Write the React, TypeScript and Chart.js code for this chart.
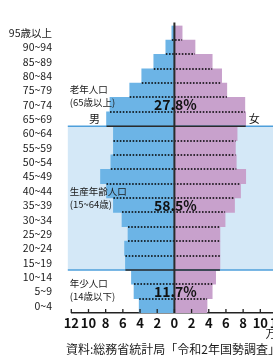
import React, { useEffect, useRef } from "react";
import { Chart, registerables } from "chart.js";

Chart.register(...registerables);

const ageLabels = ["95歳以上", "90~94", "85~89", "80~84", "75~79", "70~74", "65~69", "60~64", "55~59", "50~54", "45~49", "40~44", "35~39", "30~34", "25~29", "20~24", "15~19", "10~14", "5~9", "0~4"];
const maleValues = [0.3, 1.0, 2.4, 3.8, 5.2, 7.5, 7.9, 7.1, 7.1, 7.4, 8.6, 7.9, 7.1, 6.1, 5.4, 5.8, 5.7, 5.0, 4.7, 4.1];
const femaleValues = [0.9, 2.4, 4.4, 5.5, 6.1, 8.2, 8.3, 7.3, 7.1, 7.2, 8.3, 7.7, 7.0, 5.9, 5.3, 5.3, 5.3, 4.8, 4.4, 3.8];
const xTickValues = [-12, -10, -8, -6, -4, -2, 0, 2, 4, 6, 8, 10, 12];

const groupNames = ["老年人口", "生産年齢人口", "年少人口"];
const groupRanges = ["(65歳以上)", "(15~64歳)", "(14歳以下)"];
const groupShares = ["27.8%", "58.5%", "11.7%"];
const groupShareRows = ["70~74", "35~39", "5~9"];
const groupNameRows = ["75~79", "40~44", "10~14"];
const groupNameDy = [-1, 1, 6.5];
const bandTopRow = "65~69";
const bandBottomRow = "15~19";

const sourceText = "資料:総務省統計局「令和2年国勢調査」";
const unitText = "万人";

const FONT = "'Noto Sans CJK JP', 'Noto Sans', sans-serif";
const MALE = "#6cb4e6";
const FEMALE = "#c8a1cc";
const BAND = "#d4e8f7";
const BAND_LINE = "#4e9fdb";
const DARK = "#2b2b2b";

export default function App() {
  const ref = useRef<HTMLCanvasElement | null>(null);

  useEffect(() => {
    if (!ref.current) return;

    const decor = {
      id: "decor",
      beforeDatasetsDraw(chart: any) {
        const { ctx, chartArea, scales } = chart;
        const y = scales.y;
        const ti = ageLabels.indexOf(bandTopRow);
        const bi = ageLabels.indexOf(bandBottomRow);
        const top = (y.getPixelForValue(ti) + y.getPixelForValue(ti + 1)) / 2;
        const bot = (y.getPixelForValue(bi) + y.getPixelForValue(bi + 1)) / 2;
        ctx.save();
        ctx.fillStyle = BAND;
        ctx.fillRect(chartArea.left - 3.5, top, chart.width, bot - top);
        ctx.restore();
      },
      afterDatasetsDraw(chart: any) {
        const { ctx, chartArea, scales } = chart;
        const x = scales.x;
        const y = scales.y;
        const ti = ageLabels.indexOf(bandTopRow);
        const bi = ageLabels.indexOf(bandBottomRow);
        const bound = (i: number) => (y.getPixelForValue(i) + y.getPixelForValue(i + 1)) / 2;
        ctx.save();
        // dotted separators
        ctx.strokeStyle = "#000";
        ctx.lineWidth = 1.6;
        ctx.setLineDash([1.6, 1.6]);
        for (let i = 0; i < ageLabels.length - 1; i++) {
          if (i === ti || i === bi) continue;
          const by = Math.round(bound(i));
          const x1 = x.getPixelForValue(-Math.min(maleValues[i], maleValues[i + 1]));
          const x2 = x.getPixelForValue(Math.min(femaleValues[i], femaleValues[i + 1]));
          ctx.beginPath();
          ctx.moveTo(x1, by);
          ctx.lineTo(x2, by);
          ctx.stroke();
        }
        ctx.setLineDash([]);
        // band borders
        for (const i of [ti, bi]) {
          const by = bound(i);
          ctx.strokeStyle = BAND_LINE;
          ctx.lineWidth = 1.5;
          ctx.beginPath();
          ctx.moveTo(chartArea.left - 3.5, by);
          ctx.lineTo(chart.width, by);
          ctx.stroke();
          const x1 = x.getPixelForValue(-Math.max(maleValues[i], maleValues[i + 1]));
          const x2 = x.getPixelForValue(Math.max(femaleValues[i], femaleValues[i + 1]));
          ctx.strokeStyle = DARK;
          ctx.beginPath();
          ctx.moveTo(x1, by);
          ctx.lineTo(x2, by);
          ctx.stroke();
        }
        // center line
        const x0 = x.getPixelForValue(0);
        ctx.strokeStyle = DARK;
        ctx.lineWidth = 2;
        ctx.beginPath();
        ctx.moveTo(x0, chartArea.top - 3);
        ctx.lineTo(x0, chartArea.bottom);
        ctx.stroke();
        // x tick marks (inward)
        ctx.strokeStyle = "#222";
        ctx.lineWidth = 1.3;
        for (const v of xTickValues) {
          const px = x.getPixelForValue(v);
          ctx.beginPath();
          ctx.moveTo(px, chartArea.bottom);
          ctx.lineTo(px, chartArea.bottom - 4);
          ctx.stroke();
        }
        // shares
        ctx.fillStyle = "#111";
        ctx.textAlign = "center";
        ctx.textBaseline = "middle";
        ctx.font = `bold 14px ${FONT}`;
        groupShares.forEach((s, k) => {
          const r = ageLabels.indexOf(groupShareRows[k]);
          ctx.fillText(s, x0 + 1, y.getPixelForValue(r));
        });
        // group annotations
        ctx.textAlign = "left";
        ctx.font = `9.5px ${FONT}`;
        ctx.fillStyle = "#1a1a1a";
        groupNames.forEach((g, k) => {
          const r = ageLabels.indexOf(groupNameRows[k]);
          const yy = y.getPixelForValue(r) + groupNameDy[k];
          ctx.fillText(g, chartArea.left - 1.5, yy);
          ctx.fillText(groupRanges[k], chartArea.left - 1.5, yy + 13);
        });
        // sex labels
        const r65 = ageLabels.indexOf("65~69");
        ctx.font = `11px ${FONT}`;
        ctx.textAlign = "center";
        ctx.fillText("男", x.getPixelForValue(-9.3), y.getPixelForValue(r65));
        ctx.fillText("女", x.getPixelForValue(9.3), y.getPixelForValue(r65));
        ctx.restore();
      },
      afterDraw(chart: any) {
        const { ctx, chartArea } = chart;
        ctx.save();
        ctx.fillStyle = "#1a1a1a";
        ctx.textBaseline = "middle";
        ctx.textAlign = "left";
        ctx.font = `11px ${FONT}`;
        ctx.fillText(unitText, 265.5, chartArea.bottom + 20.5);
        ctx.font = `12px ${FONT}`;
        ctx.fillText(sourceText, 66, chartArea.bottom + 36);
        ctx.restore();
      },
    };

    const chart = new Chart(ref.current, {
      type: "bar",
      data: {
        labels: ageLabels,
        datasets: [
          { label: "男", data: maleValues.map((v) => -v), backgroundColor: MALE, borderWidth: 0 },
          { label: "女", data: femaleValues, backgroundColor: FEMALE, borderWidth: 0 },
        ],
      },
      options: {
        indexAxis: "y",
        responsive: false,
        animation: false,
        maintainAspectRatio: false,
        layout: { padding: { top: 6, left: 0, right: 22.5, bottom: 17 } },
        datasets: { bar: { barPercentage: 1, categoryPercentage: 1 } },
        plugins: { legend: { display: false }, tooltip: { enabled: false } },
        scales: {
          x: {
            type: "linear",
            min: -12,
            max: 12,
            stacked: true,
            grid: { display: false, drawTicks: false },
            border: { display: true, color: "#222", width: 1.5 },
            afterFit: (s: any) => {
              s.height = 30;
            },
            afterBuildTicks: (s: any) => {
              s.ticks = xTickValues.map((v) => ({ value: v }));
            },
            ticks: {
              autoSkip: false,
              maxRotation: 0,
              padding: 2,
              color: "#111",
              font: { family: FONT, size: 13, weight: "bold" },
              callback: (v: any) => String(Math.abs(Number(v))),
            },
          },
          y: {
            type: "category",
            stacked: true,
            grid: { display: false, drawTicks: false },
            border: { display: false },
            afterFit: (s: any) => {
              s.width = 71.3;
            },
            ticks: {
              padding: 19.3,
              color: "#1a1a1a",
              font: { family: FONT, size: 10.5 },
              autoSkip: false,
            },
          },
        },
      },
      plugins: [decor],
    } as any);

    return () => chart.destroy();
  }, []);

  return (
    <div style={{ position: "fixed", left: 0, top: 0, width: 273, height: 360, overflow: "hidden", background: "#fff" }}>
      <canvas ref={ref} width={300} height={360} style={{ display: "block", width: 300, height: 360 }} />
    </div>
  );
}
